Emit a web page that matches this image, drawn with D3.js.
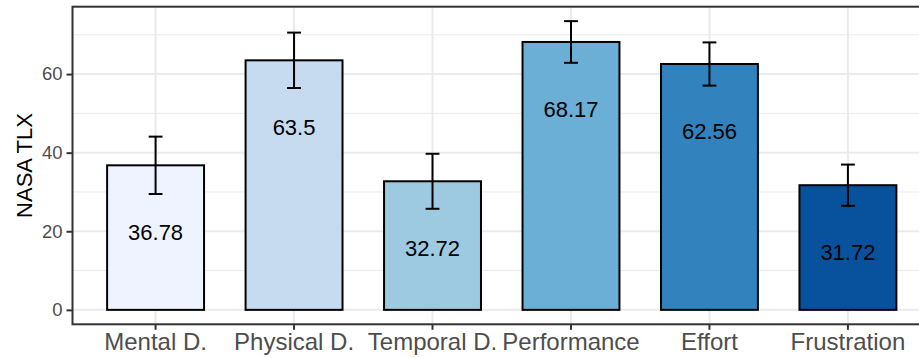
<!DOCTYPE html>
<html lang="en">
<head>
    <meta charset="UTF-8"/>
    <title>NASA TLX</title>
    <script src="https://d3js.org/d3.v7.min.js"></script>
    <style type="text/css">
        body {
            margin: 0;
            background: white;
        }
        text {
            font-family: "Liberation Sans", Arial, sans-serif;
        }
    </style>
</head>
<body>

<div id="my_dataviz"></div>

<script>

// data
var categories = ["Mental D.", "Physical D.", "Temporal D.", "Performance", "Effort", "Frustration"]
var means = [36.78, 63.5, 32.72, 68.17, 62.56, 31.72]
var errors = [7.3, 7.05, 7.0, 5.3, 5.5, 5.25]
var barColors = ["#eff3ff", "#c6dbef", "#9ecae1", "#6baed6", "#3182bd", "#08519c"]
var yTicks = [0, 20, 40, 60]
var yMinorTicks = [10, 30, 50, 70]

var width = 919
    height = 358
    panelLeft = 72.5
    panelRight = 931   // the panel runs past the right edge of the picture
    panelTop = 6.7
    panelBottom = 324.3

var data = categories.map(function(c, i) {
  return {name: c, value: means[i], se: errors[i], color: barColors[i]}
})

var svg = d3.select("#my_dataviz")
  .append("svg")
    .attr("width", width)
    .attr("height", height)

// x: ggplot style discrete scale, bar width 0.7 and 0.6 expansion at each side
var x = d3.scaleBand()
  .domain(categories)
  .range([panelLeft, panelRight])
  .paddingInner(0.3)
  .paddingOuter(0.25)

// y: 5% expansion around 0 .. highest error bar
var yMax = d3.max(data, function(d) { return d.value + d.se })
var pad = yMax * 0.05
var y = d3.scaleLinear()
  .domain([-pad, yMax + pad])
  .range([panelBottom, panelTop])

// grid
svg.append("g")
  .selectAll("line")
  .data(yMinorTicks)
  .enter()
  .append("line")
    .attr("x1", panelLeft).attr("x2", panelRight)
    .attr("y1", function(d) { return y(d) })
    .attr("y2", function(d) { return y(d) })
    .attr("stroke", "#ebebeb")
    .attr("stroke-width", 1)

svg.append("g")
  .selectAll("line")
  .data(yTicks)
  .enter()
  .append("line")
    .attr("x1", panelLeft).attr("x2", panelRight)
    .attr("y1", function(d) { return y(d) })
    .attr("y2", function(d) { return y(d) })
    .attr("stroke", "#ebebeb")
    .attr("stroke-width", 2)

svg.append("g")
  .selectAll("line")
  .data(categories)
  .enter()
  .append("line")
    .attr("x1", function(d) { return x(d) + x.bandwidth() / 2 })
    .attr("x2", function(d) { return x(d) + x.bandwidth() / 2 })
    .attr("y1", panelTop).attr("y2", panelBottom)
    .attr("stroke", "#ebebeb")
    .attr("stroke-width", 2)

// bars
svg.append("g")
  .selectAll("rect")
  .data(data)
  .enter()
  .append("rect")
    .attr("x", function(d) { return x(d.name) })
    .attr("y", function(d) { return y(d.value) })
    .attr("width", x.bandwidth())
    .attr("height", function(d) { return y(0) - y(d.value) })
    .attr("fill", function(d) { return d.color })
    .attr("stroke", "black")
    .attr("stroke-width", 2)

// error bars
var capHalf = x.step() * 0.05
var eb = svg.append("g")
  .selectAll("g")
  .data(data)
  .enter()
  .append("g")
    .attr("stroke", "black")
    .attr("stroke-width", 2)

eb.append("line")
  .attr("x1", function(d) { return x(d.name) + x.bandwidth() / 2 })
  .attr("x2", function(d) { return x(d.name) + x.bandwidth() / 2 })
  .attr("y1", function(d) { return y(d.value - d.se) })
  .attr("y2", function(d) { return y(d.value + d.se) })

eb.append("line")
  .attr("x1", function(d) { return x(d.name) + x.bandwidth() / 2 - capHalf })
  .attr("x2", function(d) { return x(d.name) + x.bandwidth() / 2 + capHalf })
  .attr("y1", function(d) { return y(d.value + d.se) })
  .attr("y2", function(d) { return y(d.value + d.se) })

eb.append("line")
  .attr("x1", function(d) { return x(d.name) + x.bandwidth() / 2 - capHalf })
  .attr("x2", function(d) { return x(d.name) + x.bandwidth() / 2 + capHalf })
  .attr("y1", function(d) { return y(d.value - d.se) })
  .attr("y2", function(d) { return y(d.value - d.se) })

// value labels, sitting 17 units below the top of each bar
svg.append("g")
  .selectAll("text")
  .data(data)
  .enter()
  .append("text")
    .attr("x", function(d) { return x(d.name) + x.bandwidth() / 2 })
    .attr("y", function(d) { return y(d.value - 17) })
    .attr("dy", "0.36em")
    .attr("text-anchor", "middle")
    .style("font-size", "22px")
    .style("fill", "black")
    .text(function(d) { return d.value })

// panel border
svg.append("rect")
  .attr("x", panelLeft)
  .attr("y", panelTop)
  .attr("width", panelRight - panelLeft)
  .attr("height", panelBottom - panelTop)
  .attr("fill", "none")
  .attr("stroke", "#333333")
  .attr("stroke-width", 2)

// axes
var yAxis = svg.append("g")
  .attr("transform", "translate(" + panelLeft + ",0)")
  .call(d3.axisLeft(y).tickValues(yTicks).tickSize(6).tickPadding(4))
yAxis.select(".domain").remove()
yAxis.selectAll("line").attr("stroke", "#333333").attr("stroke-width", 2)
yAxis.selectAll("text")
  .style("font-size", "18.5px")
  .style("fill", "#4d4d4d")
  .style("font-family", "'Liberation Sans', Arial, sans-serif")

var xAxis = svg.append("g")
  .attr("transform", "translate(0," + panelBottom + ")")
  .call(d3.axisBottom(x).tickSize(5.5).tickPadding(3))
xAxis.select(".domain").remove()
xAxis.selectAll("line").attr("stroke", "#333333").attr("stroke-width", 2)
xAxis.selectAll("text")
  .style("font-size", "24px")
  .style("fill", "#4d4d4d")
  .style("font-family", "'Liberation Sans', Arial, sans-serif")

// y title
svg.append("text")
  .attr("transform", "translate(32," + (panelTop + panelBottom) / 2 + ") rotate(-90)")
  .attr("text-anchor", "middle")
  .style("font-size", "22px")
  .style("fill", "black")
  .text("NASA TLX")

</script>
</body>
</html>
